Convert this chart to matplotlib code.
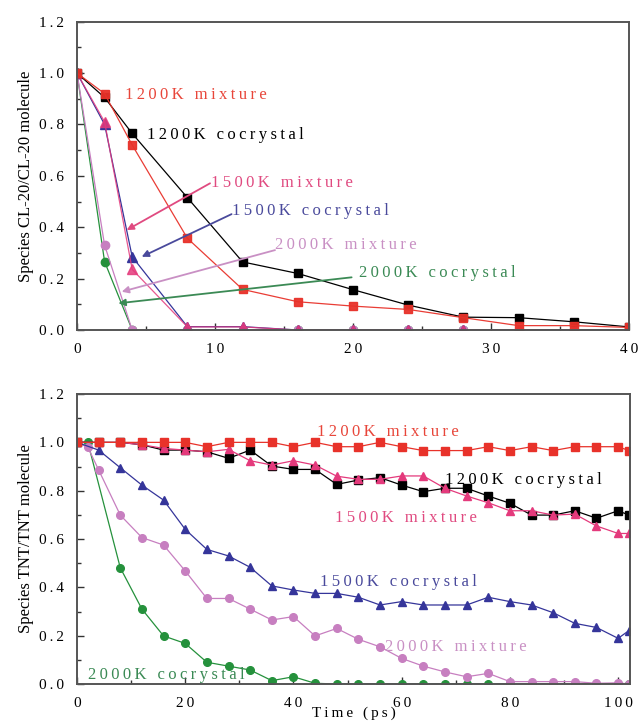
import matplotlib
matplotlib.use("Agg")
import matplotlib.pyplot as plt
from matplotlib.ticker import MultipleLocator, FuncFormatter
import numpy as np

plt.rcParams['font.family'] = ['Liberation Serif', 'DejaVu Serif']

# ---------------- data: top panel (CL-20) ----------------
t_top = [0, 2, 4, 8, 12, 16, 20, 24, 28, 32, 36, 40]
cl20_1200_mix = [1.0, 0.92, 0.72, 0.357, 0.158, 0.11, 0.093, 0.08, 0.048, 0.017, 0.017, 0.01]
cl20_1200_co = [1.0, 0.905, 0.765, 0.515, 0.265, 0.22, 0.157, 0.097, 0.05, 0.048, 0.032, 0.012]
cl20_1500_mix = [1.0, 0.81, 0.236, 0.012, 0.012, 0, 0, 0, 0, 0, 0, 0]
cl20_1500_co = [1.0, 0.80, 0.285, 0.013, 0.013, 0, 0, 0, 0, 0, 0, 0]
cl20_2000_mix = [1.0, 0.33, 0, 0, 0, 0, 0, 0, 0, 0, 0, 0]
cl20_2000_co = [1.0, 0.266, 0, 0, 0, 0, 0, 0, 0, 0, 0, 0]

# ---------------- data: bottom panel (TNT) ----------------
t_bot = [0, 4, 8, 12, 16, 20, 24, 28, 32, 36, 40, 44, 48, 52, 56, 60, 64, 68,
         72, 76, 80, 84, 88, 92, 96, 100, 102]
tnt_1200_mix = [1.0, 1.0, 1.0, 1.0, 1.0, 1.0, 0.982, 1.0, 1.0, 1.0, 0.982, 1.0, 0.982,
                0.982, 1.0, 0.982, 0.966, 0.966, 0.966, 0.982, 0.966, 0.982, 0.966,
                0.982, 0.982, 0.982, 0.966]
tnt_1200_co = [1.0, 1.0, 1.0, 0.99, 0.968, 0.968, 0.961, 0.934, 0.968, 0.902, 0.888, 0.888,
               0.826, 0.844, 0.854, 0.823, 0.796, 0.81, 0.81, 0.778, 0.748, 0.699, 0.699,
               0.717, 0.686, 0.717, 0.699]
tnt_1500_mix = [1.0, 1.0, 1.0, 0.99, 0.975, 0.968, 0.961, 0.971, 0.924, 0.906, 0.924, 0.906,
                0.86, 0.847, 0.847, 0.861, 0.861, 0.81, 0.778, 0.75, 0.717, 0.717, 0.699,
                0.703, 0.654, 0.623, 0.623]
tnt_1500_co = [1.0, 0.968, 0.895, 0.823, 0.761, 0.64, 0.557, 0.53, 0.483, 0.406, 0.389, 0.375,
               0.375, 0.359, 0.327, 0.341, 0.327, 0.327, 0.327, 0.359, 0.341, 0.327, 0.295,
               0.251, 0.234, 0.189, 0.221]
t_2000_mix = [0, 2, 4, 8, 12, 16, 20, 24, 28, 32, 36, 40, 44, 48, 52, 56, 60, 64, 68,
              72, 76, 80, 84, 88, 92, 96, 100, 102]
tnt_2000_mix = [1.0, 0.98, 0.886, 0.699, 0.606, 0.575, 0.468, 0.354, 0.354, 0.31, 0.265, 0.279,
                0.199, 0.23, 0.185, 0.154, 0.106, 0.074, 0.05, 0.03, 0.044, 0.01, 0.01, 0.01,
                0.01, 0.003, 0.005, 0.0]
t_2000_co = [0, 2, 8, 12, 16, 20, 24, 28, 32, 36, 40, 44, 48, 52, 56, 60, 64, 68,
             72, 76, 80, 84, 88, 92, 96, 100, 102]
tnt_2000_co = [1.0, 1.0, 0.481, 0.31, 0.199, 0.168, 0.09, 0.074, 0.058, 0.014, 0.03, 0.003,
               0, 0, 0, 0, 0, 0, 0, 0, 0, 0, 0, 0, 0, 0, 0]

series_names = ["1200K mixture", "1200K cocrystal", "1500K mixture",
                "1500K cocrystal", "2000K mixture", "2000K cocrystal"]

C_RED = "#e8322a"
C_BLACK = "#000000"
C_PINK = "#e43a7c"
C_NAVY = "#35359a"
C_ORCH = "#c77fc0"
C_GREEN = "#25913c"

T_RED = "#e8463a"
T_PINK = "#e04a80"
T_NAVY = "#4a4a9c"
T_ORCH = "#c990c4"
T_GREEN = "#3b8a55"


def spaced(s):
    return "\u2009".join(list(s))


fig = plt.figure(figsize=(6.4, 7.21), dpi=100)
ax1 = fig.add_axes([0.1203, 0.5423, 0.8625, 0.4276])
ax2 = fig.add_axes([0.1203, 0.0513, 0.8641, 0.4022])

FS = 12


def style(ax):
    for sp in ax.spines.values():
        sp.set_color("#555555")
        sp.set_linewidth(1.4)
    ax.tick_params(which='both', direction='in', top=False, right=False,
                   color="#333333", labelsize=11, pad=9)
    ax.tick_params(which='major', length=5, width=1.0)
    ax.tick_params(which='minor', length=3, width=1.0)
    ax.yaxis.set_major_locator(MultipleLocator(0.2))
    ax.yaxis.set_minor_locator(MultipleLocator(0.1))
    ax.yaxis.set_major_formatter(FuncFormatter(lambda v, p: spaced(f"{v:.1f}")))
    ax.xaxis.set_major_formatter(FuncFormatter(lambda v, p: spaced(f"{v:.0f}")))
    ax.set_ylim(0, 1.2)


# ---------------- top panel ----------------
lw = 0.9
ax1.plot(t_top, cl20_2000_co, '-o', color=C_GREEN, lw=lw, ms=6, mec=C_GREEN)
ax1.plot(t_top, cl20_2000_mix, '-o', color=C_ORCH, lw=lw, ms=6, mec=C_ORCH)
ax1.plot(t_top, cl20_1500_co, '-^', color=C_NAVY, lw=lw, ms=6.5)
ax1.plot(t_top, cl20_1500_mix, '-^', color=C_PINK, lw=lw, ms=6.5, alpha=0.85)
ax1.plot(t_top, cl20_1200_co, '-s', color=C_BLACK, lw=lw, ms=6)
ax1.plot(t_top, cl20_1200_mix, '-s', color=C_RED, lw=lw, ms=6, alpha=0.95)

ax1.set_xlim(0, 40)
ax1.xaxis.set_major_locator(MultipleLocator(10))
ax1.xaxis.set_minor_locator(MultipleLocator(5))
style(ax1)
ax1.set_ylabel("Species CL-20/CL-20 molecule", fontsize=12, labelpad=4)

top_labels = [
    (series_names[0], 3.48, 0.915, T_RED, None),
    (series_names[1], 5.04, 0.759, C_BLACK, None),
    (series_names[2], 9.7, 0.572, T_PINK, ((9.64, 0.571), (3.6, 0.389))),
    (series_names[3], 11.2, 0.464, T_NAVY, ((11.2, 0.451), (4.69, 0.285))),
    (series_names[4], 14.35, 0.331, T_ORCH, ((14.35, 0.311), (3.24, 0.149))),
    (series_names[5], 20.46, 0.221, T_GREEN, ((19.9, 0.205), (3.0, 0.104))),
]
for name, x, y, c, arr in top_labels:
    ax1.text(x, y, spaced(name), color=c, fontsize=FS, ha='left', va='center')
    if arr is not None:
        (xt, yt), (xh, yh) = arr
        ax1.annotate('', xy=(xh, yh), xytext=(xt, yt),
                     arrowprops=dict(arrowstyle='-|>', color=c, lw=1.3,
                                     mutation_scale=10, shrinkA=0, shrinkB=0))

# ---------------- bottom panel ----------------
ms2 = 5.5
ax2.plot(t_2000_co, tnt_2000_co, '-o', color=C_GREEN, lw=lw, ms=ms2)
ax2.plot(t_2000_mix, tnt_2000_mix, '-o', color=C_ORCH, lw=lw, ms=ms2)
ax2.plot(t_bot, tnt_1500_co, '-^', color=C_NAVY, lw=lw, ms=6)
ax2.plot(t_bot, tnt_1200_co, '-s', color=C_BLACK, lw=lw, ms=5.5)
ax2.plot(t_bot, tnt_1500_mix, '-^', color=C_PINK, lw=lw, ms=6)
ax2.plot(t_bot, tnt_1200_mix, '-s', color=C_RED, lw=lw, ms=5.5)

ax2.set_xlim(0, 102.2)
ax2.xaxis.set_major_locator(MultipleLocator(20))
ax2.xaxis.set_minor_locator(MultipleLocator(10))
style(ax2)
ax2.set_ylabel("Species TNT/TNT molecule", fontsize=12, labelpad=4)
ax2.set_xlabel(spaced("Time (ps)"), fontsize=11, labelpad=-2)

bot_labels = [
    (series_names[0], 44.3, 1.044, T_RED),
    (series_names[1], 68.0, 0.844, C_BLACK),
    (series_names[2], 47.7, 0.686, T_PINK),
    (series_names[3], 44.9, 0.423, T_NAVY),
    (series_names[4], 56.9, 0.152, T_ORCH),
    (series_names[5], 2.1, 0.037, T_GREEN),
]
for name, x, y, c in bot_labels:
    ax2.text(x, y, spaced(name), color=c, fontsize=FS, ha='left', va='center')

fig.savefig("out.png", dpi=100)
